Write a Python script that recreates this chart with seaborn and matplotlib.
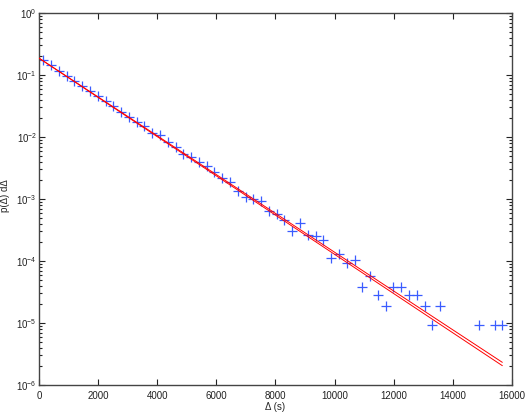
import numpy as np
import pandas as pd
import matplotlib
matplotlib.use("Agg")
import matplotlib.pyplot as plt
import matplotlib.ticker as mticker
import seaborn as sns

# bin centres (s) of the measured histogram (empty bins are absent)
delta = [145, 408, 671, 935, 1198, 1461, 1724, 1987, 2251, 2514,
         2777, 3040, 3303, 3567, 3830, 4093, 4356, 4619, 4883, 5146,
         5409, 5672, 5935, 6199, 6462, 6725, 6988, 7251, 7515, 7778,
         8041, 8304, 8567, 8831, 9094, 9357, 9620, 9883, 10147, 10410,
         10673, 10936, 11199, 11463, 11726, 11989, 12252, 12515, 12779, 13042,
         13305, 13568, 14884, 15410, 15673]
# probability per bin p(Δ)dΔ
prob = [0.1754, 0.1442, 0.1180, 0.0970, 0.0806, 0.0670, 0.0557, 0.0462, 0.0374, 0.0311,
        0.0256, 0.0207, 0.0172, 0.0148, 0.0116, 0.0106, 0.0082, 0.00692, 0.00540, 0.00478,
        0.00391, 0.00346, 0.00277, 0.00216, 0.00189, 0.00134, 0.00107, 0.000982, 0.000929, 0.000641,
        0.000564, 0.000460, 0.000300, 0.000411, 0.000262, 0.000254, 0.000215, 0.000113, 0.000131, 9.42e-5,
        1.04e-4, 3.78e-5, 5.73e-5, 2.81e-5, 1.89e-5, 3.78e-5, 3.78e-5, 2.81e-5, 2.81e-5, 1.89e-5,
        9.33e-6, 1.89e-5, 9.33e-6, 9.33e-6, 9.33e-6]

# two exponential fits (straight on the log axis), given by their end points
fit_x = [0, 15673]
fit1_y = [0.187, 2.32e-6]
fit2_y = [0.187, 2.05e-6]

x_ticks = [0, 2000, 4000, 6000, 8000, 10000, 12000, 14000, 16000]

sns.set_style("ticks")
plt.rcParams['font.family'] = ['Liberation Sans', 'DejaVu Sans']
plt.rcParams['mathtext.fontset'] = 'custom'
plt.rcParams['mathtext.rm'] = 'Liberation Sans'
plt.rcParams['mathtext.it'] = 'Liberation Sans:italic'

fig = plt.figure(figsize=(5.31, 4.15), dpi=100)
ax = fig.add_axes([0.0734, 0.0723, 0.8908, 0.8964])

pts = pd.DataFrame({"delta": delta, "p": prob})
sns.scatterplot(data=pts, x="delta", y="p", marker="+", s=45, color="#3a5cff",
                linewidth=0.9, ax=ax, zorder=2, legend=False)

fits = pd.DataFrame({"x": fit_x * 2, "y": fit1_y + fit2_y,
                     "fit": ["a", "a", "b", "b"]})
sns.lineplot(data=fits, x="x", y="y", units="fit", estimator=None,
             color="#ff0000", linewidth=0.7, ax=ax, zorder=3, legend=False)

ax.set_yscale("log")
ax.set_xlim(0, 16000)
ax.set_ylim(1e-6, 1)
ax.set_xticks(x_ticks)
ax.set_xticklabels([str(v) for v in x_ticks])
ax.yaxis.set_major_locator(mticker.LogLocator(base=10, numticks=10))
ax.yaxis.set_minor_locator(mticker.LogLocator(base=10, subs=np.arange(2, 10), numticks=20))
ax.yaxis.set_minor_formatter(mticker.NullFormatter())

ax.tick_params(which="both", direction="in", top=True, right=True,
               labelsize=7, colors="#222222", width=0.8)
ax.tick_params(axis="y", which="major", pad=1.5)
ax.tick_params(axis="x", which="major", pad=4)
ax.tick_params(which="major", length=4)
ax.tick_params(which="minor", length=2)
for sp in ax.spines.values():
    sp.set_visible(True)
    sp.set_color("#444444")
    sp.set_linewidth(1.0)

ax.set_xlabel("Δ (s)", fontsize=7)
ax.set_ylabel("p(Δ) dΔ", fontsize=7)
ax.xaxis.set_label_coords(0.5, -0.047)
ax.yaxis.set_label_coords(-0.061, 0.51)

fig.savefig("out.png", dpi=100)
